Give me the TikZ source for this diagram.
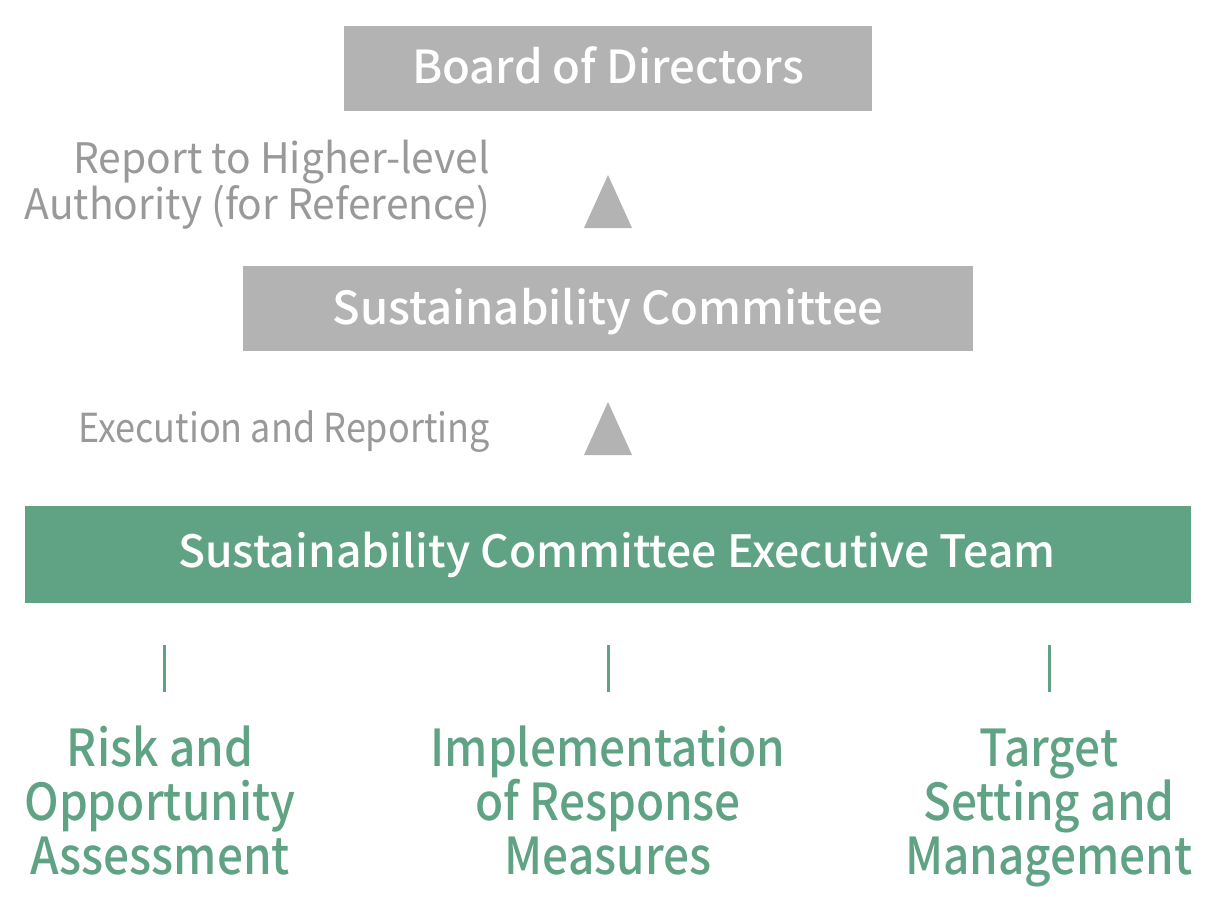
\documentclass[tikz,border=0pt]{standalone}
\usepackage{fontspec}
\setmainfont{Noto Sans CJK SC}[FakeStretch=0.9, BoldFont={* Medium}]
\newfontfamily\boxfont{Noto Sans CJK SC}[UprightFont={* Medium}]
\newfontfamily\notefont{Noto Sans CJK SC}[FakeStretch=0.97]
\usetikzlibrary{calc}
\definecolor{boxgray}{HTML}{B3B3B3}
\definecolor{labgray}{HTML}{999999}
\definecolor{teamgreen}{HTML}{5FA384}
\tikzset{
  graybox/.style={fill=boxgray, draw=none, text=white, inner sep=0pt, anchor=base, font=\boxfont\fontsize{45.5}{54}\selectfont},
  greenbox/.style={fill=teamgreen, draw=none, text=white, inner sep=0pt, anchor=base, font=\boxfont\fontsize{44.5}{54}\selectfont},
  sidelabel/.style={text=labgray, align=right, anchor=base east, inner sep=0pt, font=\fontsize{40}{44}\selectfont},
  notelabel/.style={sidelabel, font=\notefont\fontsize{42}{44}\selectfont},
  arrowtri/.style={fill=boxgray, draw=none},
  tasklabel/.style={text=teamgreen, align=center, anchor=base, inner sep=0pt, font=\bfseries\fontsize{51}{54}\selectfont},
  taskline/.style={draw=teamgreen, line width=3pt},
}
\begin{document}
\begin{tikzpicture}[x=1pt,y=-1pt]
\useasboundingbox (0,0) rectangle (1214,896);
\path[graybox] (344,26) rectangle (872,111);
\node[graybox, fill=none] (board) at (608,84) {Board of Directors};
\path[graybox] (243,266) rectangle (973,351);
\node[graybox, fill=none] (committee) at (608,324) {Sustainability Committee};
\path[greenbox] (25,506) rectangle (1191,603);
\node[greenbox, fill=none] (team) at (617,567) {Sustainability Committee Executive Team};
% triangles
\coordinate (t1) at (608,175);
\coordinate (t2) at (608,402);
\path[arrowtri] (t1) -- ++(24,53) -- ++(-48,0) -- cycle;
\path[arrowtri] (t2) -- ++(24,53) -- ++(-48,0) -- cycle;
\node[notelabel] (report) at (490,219) {Report to Higher-level\\Authority (for Reference)};
\node[sidelabel] (exec) at (490,442) {Execution and Reporting};
% lines
\coordinate (l1a) at (164,645); \coordinate (l1b) at (164,692);
\coordinate (l2a) at (608,645); \coordinate (l2b) at (608,692);
\coordinate (l3a) at (1049,645); \coordinate (l3b) at (1049,692);
\draw[taskline] (l1a) -- (l1b);
\draw[taskline] (l2a) -- (l2b);
\draw[taskline] (l3a) -- (l3b);
\node[tasklabel] (risk) at (160,874) {Risk and\\Opportunity\\Assessment};
\node[tasklabel] (impl) at (608,874) {Implementation\\of Response\\Measures};
\node[tasklabel] (target) at (1049,874) {Target\\Setting and\\Management};
\end{tikzpicture}
\end{document}
